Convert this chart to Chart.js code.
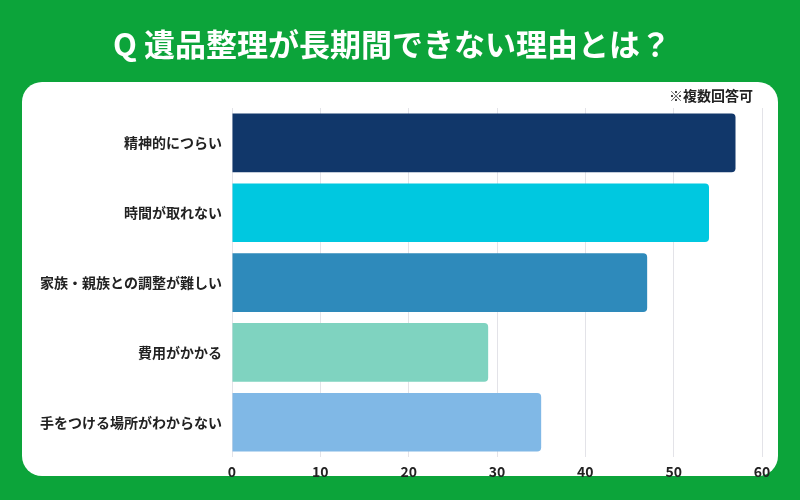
<!DOCTYPE html>
<html><head><meta charset="utf-8">
<script src="https://cdn.jsdelivr.net/npm/chart.js@4"></script>
<style>html,body{margin:0;padding:0;background:#0ca43a;}#w{width:800px;height:500px;position:relative}</style>
</head><body><div id="w"><canvas id="c" width="800" height="500"></canvas></div>
<script>
const categories = ["精神的につらい","時間が取れない","家族・親族との調整が難しい","費用がかかる","手をつける場所がわからない"];
const values = [57, 54, 47, 29, 35];
const colors = ["#11376a","#00c8e0","#2e8abb","#7fd3c0","#80b8e6"];
const xTicks = [0,10,20,30,40,50,60];
const title = "Q 遺品整理が長期間できない理由とは？";
const note = "※複数回答可";
const F = "'Noto Sans CJK JP','Noto Sans',sans-serif";

const bg = {
  id:'bg',
  beforeDraw(ch){
    const c=ch.ctx; c.save();
    c.fillStyle='#0ca43a'; c.fillRect(0,0,800,500);
    c.fillStyle='#ffffff';
    c.beginPath(); c.roundRect(22,82,756,394,20); c.fill();
    c.fillStyle='#ffffff'; c.font="bold 31px "+F; c.textAlign='center'; c.textBaseline='middle';
    c.fillText(title,392,44);
    c.fillStyle='#222'; c.font="bold 14px "+F; c.textAlign='right';
    c.fillText(note,753,96);
    c.restore();
  }
};

new Chart(document.getElementById('c'),{
  type:'bar',
  data:{labels:categories,datasets:[{data:values,backgroundColor:colors,borderRadius:4,borderSkipped:'start',barPercentage:0.84,categoryPercentage:1}]},
  options:{
    indexAxis:'y',responsive:false,animation:false,devicePixelRatio:1,
    layout:{padding:{top:108,bottom:14,right:38,left:0}},
    plugins:{legend:{display:false},tooltip:{enabled:false}},
    scales:{
      x:{min:0,max:60,afterBuildTicks(a){a.ticks=xTicks.map(v=>({value:v}));},
         grid:{color:'#e3e3e8',drawTicks:false},border:{display:false},
         ticks:{color:'#222',font:{family:F,size:14,weight:'bold'},padding:6}},
      y:{grid:{display:false,drawTicks:false,tickLength:0},border:{display:false},
         afterFit(s){s.width=232;},
         ticks:{color:'#222',font:{family:F,size:14,weight:'bold'},padding:10}}
    }
  },
  plugins:[bg]
});
</script></body></html>
